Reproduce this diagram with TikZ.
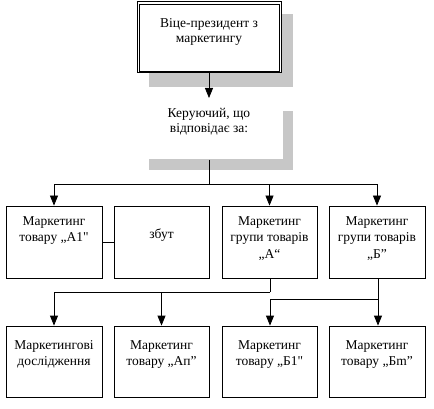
\documentclass[tikz,border=0pt]{standalone}
\usepackage{fontspec}
\setmainfont{Liberation Serif}[Ligatures=TeXOff]
\usetikzlibrary{arrows.meta,calc}
\begin{document}
\begin{tikzpicture}[x=1pt,y=-1pt,
  box/.style={draw, line width=0.8pt, inner sep=0pt},
  txt/.style={align=center, inner sep=0pt, anchor=north, font=\fontsize{13.5}{16.5}\selectfont},
  txtb/.style={txt, font=\fontsize{13.5}{15.5}\selectfont},
  shade/.style={fill=black!22, draw=none},
  conn/.style={line width=0.8pt},
  arr/.style={conn, -{Triangle[length=10pt,width=8pt]}}]
\useasboundingbox (0,0) rectangle (434,409);
% shadows
\fill[shade] (149,14) rectangle (293,87);
\fill[shade] (149,111) rectangle (293,170);
\fill[white] (139,101) rectangle (283,159);
% top box (double border)
\node[box, fill=white, line width=1pt, minimum width=144pt, minimum height=71pt] (vp) at (209,37.5) {};
\draw[line width=0.6pt] ($(vp.north west)+(2.5,2.5)$) rectangle ($(vp.south east)+(-2.5,-2.5)$);
\node[txtb] (vpt) at (209,18) {Віце-президент з\\маркетингу};
% manager text
\node[txtb] (mgr) at (209,108) {Керуючий, що\\відповідає за:};
\coordinate (mgrb) at (209,160);
% row 1
\node[box, minimum width=96pt, minimum height=72pt] (b1) at (54,242) {};
\node[box, minimum width=95pt, minimum height=72pt] (b2) at (161.5,242) {};
\node[box, minimum width=95pt, minimum height=72pt] (b3) at (269.5,242) {};
\node[box, minimum width=96pt, minimum height=72pt] (b4) at (377,242) {};
\node[txt] (t1) at (54,216) {Маркетинг\\товару „А1"};
\node[txt] (t2) at (161.5,229) {збут};
\node[txt] (t3) at (269.5,216) {Маркетинг\\групи товарів\\„А“};
\node[txt] (t4) at (377,216) {Маркетинг\\групи товарів\\„Б”};
% row 2
\node[box, minimum width=96pt, minimum height=71pt] (c1) at (54,361.5) {};
\node[box, minimum width=95pt, minimum height=71pt] (c2) at (161.5,361.5) {};
\node[box, minimum width=95pt, minimum height=71pt] (c3) at (269.5,361.5) {};
\node[box, minimum width=96pt, minimum height=71pt] (c4) at (377,361.5) {};
\node[txt] (u1) at (54,340) {Маркетингові\\дослідження};
\node[txt] (u2) at (161.5,340) {Маркетинг\\товару „Ап”};
\node[txt] (u3) at (269.5,340) {Маркетинг\\товару „Б1"};
\node[txt] (u4) at (377,340) {Маркетинг\\товару „Бm”};
% connectors
\draw[arr] (vp.south) -- (209,98);
\coordinate (j0) at (209,184);
\draw[conn] (mgrb) -- (j0);
\draw[arr] (j0) -| (b1.north);
\draw[arr] (j0) -| (b3.north);
\draw[arr] (j0) -| (b4.north);
\draw[conn] (b1.east |- 0,242) -- (b2.west |- 0,242);
\coordinate (ja) at (270,292);
\draw[conn] (b3.south -| ja) -- (ja);
\draw[arr] (ja) -| (c1.north);
\draw[arr] (c2.north |- ja) -- (c2.north);
\coordinate (jb) at (378,299);
\draw[arr] (b4.south -| jb) -- (c4.north -| jb);
\draw[arr] (jb) -| (c3.north -| ja);
\end{tikzpicture}
\end{document}
